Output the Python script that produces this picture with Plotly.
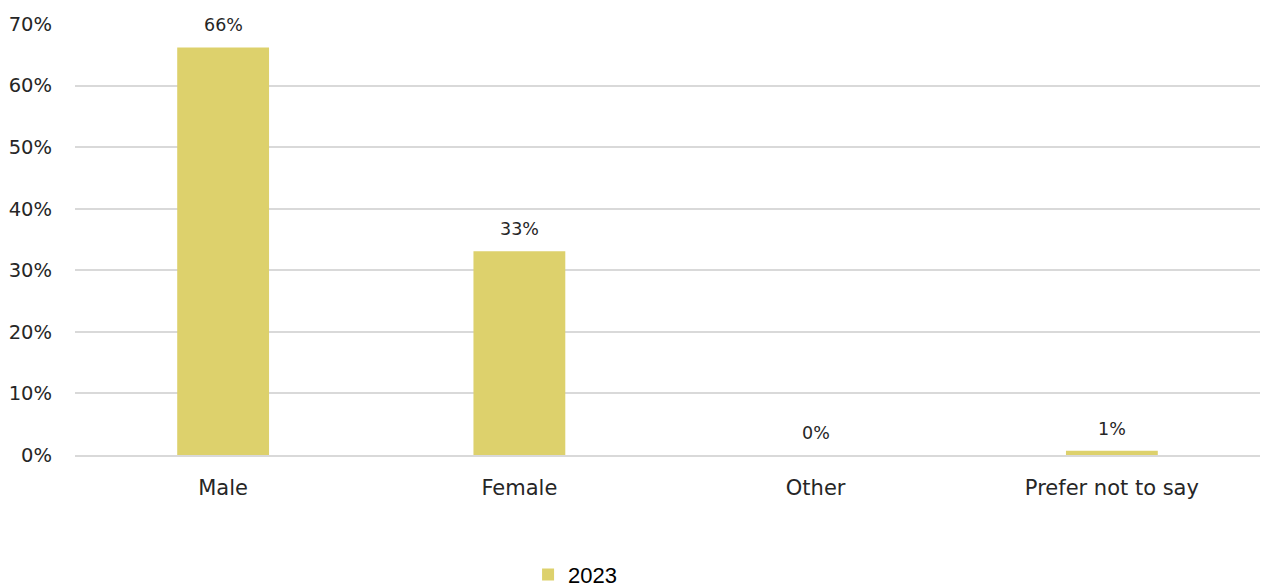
import plotly.graph_objects as go

categories = ["Male", "Female", "Other", "Prefer not to say"]
values_2023 = [0.662, 0.331, 0.0, 0.007]
series_name = "2023"
y_ticks = [0, 0.1, 0.2, 0.3, 0.4, 0.5, 0.6, 0.7]
y_tick_labels = ["0%", "10%", "20%", "30%", "40%", "50%", "60%", "70%"]

BAR = "#DDD16C"
FONT = "'DejaVu Sans', sans-serif"
TXT = "#262626"

fig = go.Figure()
fig.add_trace(go.Bar(
    x=categories, y=values_2023, name=series_name,
    marker=dict(color=BAR, line=dict(width=0)),
    width=0.31,
))

for c, v in zip(categories, values_2023):
    fig.add_annotation(
        x=c, y=v, text=f"{round(v * 100):.0f}%", showarrow=False,
        yanchor="middle", yshift=22,
        font=dict(family=FONT, size=17.5, color=TXT),
    )

fig.update_layout(
    width=1264, height=588,
    margin=dict(l=75, r=4, t=24, b=133, autoexpand=False),
    paper_bgcolor="white", plot_bgcolor="white",
    showlegend=True,
    legend=dict(orientation="h", x=0.422, xanchor="center", y=-0.278, yanchor="middle",
                font=dict(family="'Liberation Sans', Arial, sans-serif", size=22, color="#000"),
                itemwidth=30),
    font=dict(family=FONT, color=TXT),
)
fig.update_yaxes(
    range=[0, 0.7], tickvals=y_ticks, ticktext=y_tick_labels,
    showgrid=True, gridcolor="#D9D9D9", gridwidth=1.5,
    zeroline=False, showline=False, ticks="",
    tickfont=dict(family=FONT, size=19.5, color=TXT),
    ticklabelstandoff=22,
)
fig.update_xaxes(
    showline=True, linecolor="#D9D9D9", linewidth=1.5, ticks="",
    tickfont=dict(family=FONT, size=21, color=TXT),
    ticklabelstandoff=13,
)

fig.write_html("out.html")
